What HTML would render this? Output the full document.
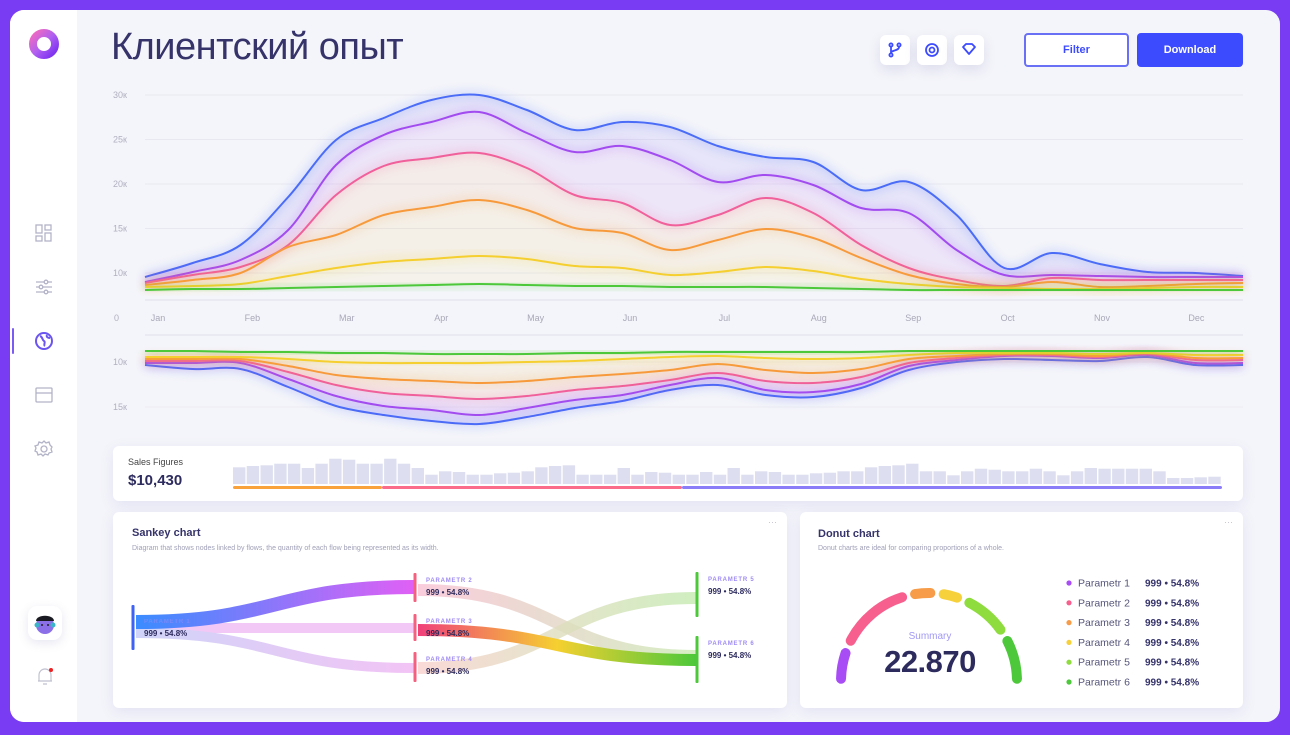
<!DOCTYPE html>
<html><head><meta charset="utf-8">
<style>
*{box-sizing:border-box;margin:0;padding:0}
body{width:1290px;height:735px;background:#7a3cf2;font-family:"Liberation Sans","Noto Sans CJK SC",sans-serif;position:relative;overflow:hidden}
#panel{position:absolute;left:10px;top:10px;width:1270px;height:712px;background:#f4f5fa;border-radius:14px;overflow:hidden}
#side{position:absolute;left:0;top:0;width:67px;height:712px;background:#fff}
.ico{position:absolute;left:24px;width:20px;height:20px}
.card{position:absolute;background:#fff;border-radius:6px;box-shadow:0 4px 14px rgba(110,100,200,.12)}
.btn-i{position:absolute;top:25px;width:30px;height:30px;background:#fff;border-radius:6px;box-shadow:0 5px 12px rgba(90,90,160,.15)}
</style></head><body>
<div id="panel">
 <div id="side">
  <svg style="position:absolute;left:18px;top:18px" width="32" height="32" viewBox="0 0 32 32">
   <defs><linearGradient id="lg" x1="0" y1="0" x2="1" y2="1"><stop offset="0" stop-color="#f06ac0"/><stop offset=".5" stop-color="#b060f0"/><stop offset="1" stop-color="#7a2ff0"/></linearGradient></defs>
   <circle cx="16" cy="16" r="11" fill="none" stroke="url(#lg)" stroke-width="8"/></svg>
  <svg class="ico" style="top:213px" viewBox="0 0 20 20" fill="none" stroke="#b3b3c8" stroke-width="1.3"><rect x="2" y="2" width="6" height="8"/><rect x="11" y="2" width="6" height="5"/><rect x="2" y="13" width="6" height="5"/><rect x="11" y="10" width="6" height="8"/></svg>
  <svg class="ico" style="top:267px" viewBox="0 0 20 20" fill="none" stroke="#b3b3c8" stroke-width="1.3"><path d="M2 5h16M2 10h16M2 15h16"/><circle cx="12" cy="5" r="1.8" fill="#fff"/><circle cx="7" cy="10" r="1.8" fill="#fff"/><circle cx="12" cy="15" r="1.8" fill="#fff"/></svg>
  <div style="position:absolute;left:2px;top:318px;width:2px;height:26px;background:#7a5cf5;border-radius:2px"></div>
  <svg class="ico" style="top:321px" viewBox="0 0 20 20"><circle cx="10" cy="10" r="8" fill="none" stroke="#6a55f0" stroke-width="2"/><path d="M6 5c3 1 2 4 4 5s-1 4 1 5M13 4c-1 2 1 3 3 3" stroke="#6a55f0" stroke-width="2" fill="none"/></svg>
  <svg class="ico" style="top:375px" viewBox="0 0 20 20" fill="none" stroke="#b3b3c8" stroke-width="1.3"><rect x="2" y="3" width="16" height="14" rx="1"/><path d="M2 8h16"/></svg>
  <svg class="ico" style="top:429px" viewBox="0 0 20 20" fill="none" stroke="#b3b3c8" stroke-width="1.3"><circle cx="10" cy="10" r="3"/><path d="M10 2l2 2 3-1 1 3 2 2-1 2 1 3-3 1-1 2-3-1-2 2-2-2-3 1-1-3-2-1 1-3-1-2 3-1 1-3 3 1z"/></svg>
  <div style="position:absolute;left:18px;top:596px;width:34px;height:34px;background:#fff;border-radius:9px;box-shadow:0 3px 10px rgba(90,90,160,.15)">
   <svg width="34" height="34" viewBox="0 0 34 34"><circle cx="17" cy="19" r="9" fill="#8a6fe8"/><circle cx="9" cy="19" r="2.5" fill="#3ab4c8"/><circle cx="25" cy="19" r="2.5" fill="#3ab4c8"/><path d="M8 15c0-7 18-7 18 0z" fill="#1a1a22"/><circle cx="14" cy="19" r="1" fill="#222"/><circle cx="20" cy="19" r="1" fill="#222"/></svg></div>
  <svg style="position:absolute;left:25px;top:656px" width="20" height="20" viewBox="0 0 20 20"><path d="M4 15V9a6 6 0 0 1 12 0v6zM3 15h14M8 18h4" fill="none" stroke="#c0c0d0" stroke-width="1.2"/><circle cx="16" cy="4" r="2" fill="#f02020"/></svg>
 </div>
 <div style="position:absolute;left:101px;top:16px;font-size:38px;color:#35336a;letter-spacing:-0.5px">Клиентский опыт</div>
 <div class="btn-i" style="left:870px"><svg width="30" height="30" viewBox="0 0 30 30" fill="none" stroke="#3d4bff" stroke-width="1.8"><circle cx="11" cy="10" r="1.6"/><circle cx="11" cy="20" r="1.6"/><circle cx="19" cy="10" r="1.6"/><path d="M11 12v6M19 12c0 4-8 3-8 6"/></svg></div>
 <div class="btn-i" style="left:907px"><svg width="30" height="30" viewBox="0 0 30 30" fill="none" stroke="#3d4bff" stroke-width="1.8"><circle cx="15" cy="15" r="6"/><circle cx="15" cy="15" r="2.5"/></svg></div>
 <div class="btn-i" style="left:944px"><svg width="30" height="30" viewBox="0 0 30 30" fill="none" stroke="#3d4bff" stroke-width="1.8" stroke-linejoin="round"><path d="M9 12l3-3h6l3 3-6 7z"/></svg></div>
 <div style="position:absolute;left:1014px;top:23px;width:105px;height:34px;border:2px solid #6a70f5;border-radius:4px;background:#fff;color:#3d4bff;font-size:11px;font-weight:bold;text-align:center;line-height:30px">Filter</div>
 <div style="position:absolute;left:1127px;top:23px;width:106px;height:34px;background:#3d4bff;border-radius:4px;color:#fff;font-size:11px;font-weight:bold;text-align:center;line-height:34px">Download</div>
</div>

<svg id="main" style="position:absolute;left:0;top:0" width="1290" height="440"></svg>

<div class="card" style="left:113px;top:446px;width:1130px;height:55px">
 <div style="position:absolute;left:15px;top:11px;font-size:9px;color:#444">Sales Figures</div>
 <div style="position:absolute;left:15px;top:26px;font-size:15px;font-weight:bold;color:#2d2b5e">$10,430</div>
 <svg id="sales" style="position:absolute;left:0;top:0" width="1130" height="55"></svg>
</div>

<div class="card" style="left:113px;top:512px;width:674px;height:196px">
 <div style="position:absolute;left:19px;top:15px;font-size:11px;font-weight:bold;color:#35336a">Sankey chart</div>
 <div style="position:absolute;left:19px;top:33px;font-size:7px;color:#a0a0b8">Diagram that shows nodes linked by flows, the quantity of each flow being represented as its width.</div>
 <div style="position:absolute;right:10px;top:5px;font-size:9px;color:#c0c0d0">···</div>
</div>
<svg id="sankey" style="position:absolute;left:0;top:0" width="790" height="720"></svg>

<div class="card" style="left:800px;top:512px;width:443px;height:196px">
 <div style="position:absolute;left:18px;top:16px;font-size:11px;font-weight:bold;color:#35336a">Donut chart</div>
 <div style="position:absolute;left:18px;top:33px;font-size:7px;color:#a0a0b8">Donut charts are ideal for comparing proportions of a whole.</div>
 <div style="position:absolute;right:10px;top:5px;font-size:9px;color:#c0c0d0">···</div>
 <div style="position:absolute;left:80px;top:119px;width:100px;text-align:center;font-size:10px;color:#a29af5">Summary</div>
 <div style="position:absolute;left:60px;top:132px;width:140px;text-align:center;font-size:31px;font-weight:bold;color:#2d2b5e;letter-spacing:-0.5px">22.870</div>
</div>
<svg id="donut" style="position:absolute;left:0;top:0" width="1290" height="735"></svg>

<script>
const NS='http://www.w3.org/2000/svg';
function mk(p,t,a){const e=document.createElementNS(NS,t);for(const k in a)e.setAttribute(k,a[k]);p.appendChild(e);return e;}

// ===== Main chart data (values in thousands) =====
const months=['Jan','Feb','Mar','Apr','May','Jun','Jul','Aug','Sep','Oct','Nov','Dec'];
const yTicksTop=[30,25,20,15,10];
const yTicksBottom=[10,15];
const seriesColors=['#4a6cf7','#a24cf0','#f0609a','#f79a3c','#f5cf2f','#4cc83a'];
const topBlue=[9.55,11.12,13.15,18.54,24.94,27.42,29.44,30.0,28.31,26.07,26.97,26.4,24.27,23.03,22.47,19.33,20.22,16.52,10.56,12.25,11.01,10.11,10.0,9.66];
const topPurple=[8.99,10.11,11.46,14.83,22.13,25.51,26.97,28.09,25.73,23.6,24.27,22.7,20.22,21.01,19.89,17.3,16.74,12.58,9.78,9.78,9.66,9.55,9.55,9.55];
const topPink=[8.88,9.78,10.67,13.15,18.76,22.02,22.92,23.48,21.8,18.76,17.87,15.39,16.52,18.43,16.74,13.15,10.56,9.21,8.54,9.44,9.21,9.21,9.21,9.21];
const topOrange=[8.65,9.21,10.0,12.92,14.27,16.52,17.42,18.2,17.08,15.06,14.49,12.58,13.71,14.94,13.93,11.69,9.78,8.76,8.43,8.99,8.43,8.54,8.76,8.88];
const topYellow=[8.43,8.54,8.76,9.66,10.56,11.24,11.57,11.91,11.57,10.79,10.56,9.78,10.11,10.67,10.22,9.33,8.76,8.43,8.31,8.2,8.2,8.31,8.43,8.43];
const topGreen=[8.09,8.2,8.2,8.31,8.43,8.54,8.65,8.76,8.65,8.54,8.54,8.43,8.43,8.43,8.31,8.2,8.09,8.09,8.09,8.09,8.09,8.09,8.09,8.09];
const botBlue=[10.33,10.78,10.78,12.78,14.89,15.89,16.56,16.89,16.11,15.11,14.33,13.11,12.56,13.67,13.89,12.89,10.89,10.0,9.67,9.78,9.89,9.44,10.33,10.33];
const botPurple=[10.11,10.11,10.11,11.89,13.78,14.89,15.33,15.89,15.11,14.22,13.67,12.56,11.78,13.11,13.33,12.44,10.44,9.78,9.33,9.33,9.56,9.22,10.11,10.11];
const botPink=[9.89,9.89,9.89,11.11,12.56,13.44,13.78,14.11,13.78,13.11,12.67,12.0,11.22,12.11,12.33,11.67,10.11,9.56,9.22,9.22,9.44,9.11,9.78,9.78];
const botOrange=[9.67,9.67,9.67,10.44,11.44,11.89,12.11,12.33,12.11,11.67,11.33,10.89,10.22,10.89,11.22,10.78,9.67,9.33,9.11,9.11,9.33,9.0,9.56,9.56];
const botYellow=[9.44,9.44,9.44,9.67,10.0,10.11,10.11,10.11,10.0,9.89,9.67,9.44,9.33,9.56,9.67,9.56,9.22,9.0,9.0,9.0,9.11,9.0,9.22,9.22];
const botGreen=[8.78,8.78,8.89,8.89,9.0,9.0,9.11,9.11,9.11,9.0,9.0,8.89,8.89,8.89,8.89,8.89,8.78,8.78,8.78,8.78,8.78,8.78,8.78,8.78];

// ===== Sales bars =====
const salesBars=[50,54,56,61,61,48,61,76,73,61,61,76,61,48,28,38,36,28,28,32,34,38,50,54,56,28,28,28,48,28,36,34,28,28,36,28,
48,28,38,36,28,28,32,34,38,38,50,54,56,61,38,38,26,38,46,43,38,38,46,38,26,38,48,46,46,46,46,38,18,18,20,22];
const salesSegments=[{c:'#f9a23c',end:149},{c:'#fb6b8a',end:449},{c:'#8b7cf8',end:989}];

// ===== Gauge =====
const gaugeLabels=['Parametr 1','Parametr 2','Parametr 3','Parametr 4','Parametr 5','Parametr 6'];
const gaugeValues=[20,48,13,12,30,28.5];
const gaugeColors=['#a84cf5','#f7608e','#f79c48','#f7d13c','#8edc3e','#4cc83a'];
const gaugeText=['999 • 54.8%','999 • 54.8%','999 • 54.8%','999 • 54.8%','999 • 54.8%','999 • 54.8%'];

// ===== Sankey =====
const sankeyNodes=[{n:'PARAMETR 1',x:133,y0:605,y1:650,c:'#3d62f5'},{n:'PARAMETR 2',x:415,y0:573,y1:602,c:'#f5607e'},{n:'PARAMETR 3',x:415,y0:614,y1:641,c:'#f5607e'},{n:'PARAMETR 4',x:415,y0:652,y1:682,c:'#f5607e'},{n:'PARAMETR 5',x:697,y0:572,y1:617,c:'#4cc83a'},{n:'PARAMETR 6',x:697,y0:636,y1:683,c:'#4cc83a'}];
const sankeyFlows=[[0,1,14],[0,2,10],[0,3,10],[1,5,12],[2,5,12],[3,4,12]];
const sankeyFlowY=[[622,587],[628,628],[633,668],[590,656],[630,660],[668,598]];

// ---------- main chart ----------
const svg=document.getElementById('main');
const X0=145,X1=1243;
const xi=i=>X0+i*(X1-X0)/(topBlue.length-1);
const yTop=v=>273-(v-10)*8.9;
const yBot=v=>362+(v-10)*9;
const xm=m=>158+m*94.4;
function smooth(pts){let d='M'+pts[0][0]+','+pts[0][1];for(let i=0;i<pts.length-1;i++){const p0=pts[i-1]||pts[i],p1=pts[i],p2=pts[i+1],p3=pts[i+2]||p2;const c1=[p1[0]+(p2[0]-p0[0])/6,p1[1]+(p2[1]-p0[1])/6],c2=[p2[0]-(p3[0]-p1[0])/6,p2[1]-(p3[1]-p1[1])/6];d+=`C${c1[0].toFixed(1)},${c1[1].toFixed(1)} ${c2[0].toFixed(1)},${c2[1].toFixed(1)} ${p2[0].toFixed(1)},${p2[1].toFixed(1)}`;}return d;}
const defs=mk(svg,'defs',{});
const f=mk(defs,'filter',{id:'glow',x:'-5%',y:'-20%',width:'110%',height:'140%'});mk(f,'feGaussianBlur',{stdDeviation:'5'});
[30,25,20,15,10].forEach(v=>{const g=mk(svg,'line',{x1:X0,x2:X1,y1:yTop(v),y2:yTop(v),stroke:'#e8e8f0','stroke-width':1});});
[300,335].forEach((y,i)=>{const g=mk(svg,'line',{x1:X0,x2:X1,y1:y,y2:y,stroke:'#e4e5ee','stroke-width':1.2});});
yTicksBottom.forEach(v=>{const g=mk(svg,'line',{x1:X0,x2:X1,y1:yBot(v),y2:yBot(v),stroke:'#ececf2','stroke-width':1});});
yTicksTop.forEach(v=>{const t=mk(svg,'text',{x:113,y:yTop(v)+3,'font-size':9,fill:'#b0b0c0'});t.textContent=v+'к';});
{const t=mk(svg,'text',{x:114,y:321,'font-size':9,fill:'#b0b0c0'});t.textContent='0';}
yTicksBottom.forEach(v=>{const t=mk(svg,'text',{x:113,y:yBot(v)+3,'font-size':9,fill:'#b0b0c0'});t.textContent=v+'к';});
months.forEach((m,i)=>{const t=mk(svg,'text',{x:xm(i),y:321,'font-size':9,fill:'#a8a8b8','text-anchor':'middle'});t.textContent=m;});
function drawSet(sets,yf,tag){
 const pts=sets.map(s=>s.map((v,i)=>[xi(i),yf(v)]));
 const fills=['#8a7cf8','#c07cf0','#f7b070','#f7c860','#f5e27a','#8ee070'];
 for(let k=0;k<pts.length-1;k++){
  const a=pts[k],b=pts[k+1].slice().reverse();
  const d=smooth(a)+'L'+smooth(b).slice(1)+'Z';
  const p=mk(svg,'path',{d:d,fill:fills[k],opacity:k<2?0.13:0.12});
  
  
 }
 for(let k=0;k<pts.length;k++){
  const g=mk(svg,'path',{d:smooth(pts[k]),fill:'none',stroke:seriesColors[k],'stroke-width':6,opacity:0.25,filter:'url(#glow)'});
  
  
  const l=mk(svg,'path',{d:smooth(pts[k]),fill:'none',stroke:seriesColors[k],'stroke-width':2});
  
  
 }
}
drawSet([topBlue,topPurple,topPink,topOrange,topYellow,topGreen],yTop,'top');
drawSet([botBlue,botPurple,botPink,botOrange,botYellow,botGreen],yBot,'bottom');

// ---------- sales bars ----------
const ss=document.getElementById('sales');
const pitch=989/salesBars.length;
salesBars.forEach((v,i)=>{const h=v/3;const r=mk(ss,'rect',{x:(120+i*pitch).toFixed(1),y:(38-h).toFixed(1),width:(pitch-1.3).toFixed(1),height:h.toFixed(1),fill:'#dddff0'});});
let sx=0;salesSegments.forEach(s=>{const r=mk(ss,'rect',{x:120+sx,y:40,width:s.end-sx,height:3,rx:1.5,fill:s.c});sx=s.end;});

// ---------- sankey ----------
const sk=document.getElementById('sankey');
const sd=mk(sk,'defs',{});
const grads=[['#3a8cff','#e060f5',1],['#f2c8f6','#f2c8f6',1],['#d0d4f8','#f2c4f5',1],['#f8bcd0','#c8e8b0',0.75],['#f0407a','#f5d030','#4cc83a'],['#f8d0cc','#c4eab0',0.8]];
grads.forEach((g,i)=>{const lg=mk(sd,'linearGradient',{id:'sg'+i,x1:0,x2:1,y1:0,y2:0});if(g.length===3&&typeof g[2]==='string'){mk(lg,'stop',{offset:0,'stop-color':g[0]});mk(lg,'stop',{offset:.5,'stop-color':g[1]});mk(lg,'stop',{offset:1,'stop-color':g[2]});}else{mk(lg,'stop',{offset:0,'stop-color':g[0],'stop-opacity':g[2]});mk(lg,'stop',{offset:1,'stop-color':g[1],'stop-opacity':g[2]});}});
const order=[1,2,3,5,4,0];
order.forEach(i=>{const fl=sankeyFlows[i];const a=sankeyNodes[fl[0]],b=sankeyNodes[fl[1]];const x1=a.x+3,x2=b.x-1,y1=sankeyFlowY[i][0],y2=sankeyFlowY[i][1],mx=(x1+x2)/2;
 const p=mk(sk,'path',{d:`M${x1},${y1}C${mx},${y1} ${mx},${y2} ${x2},${y2+0.01}`,fill:'none',stroke:`url(#sg${i})`,'stroke-width':fl[2]});
 
 });
sankeyNodes.forEach((n,i)=>{const r=mk(sk,'rect',{x:n.x-1.5,y:n.y0,width:3,height:n.y1-n.y0,rx:1,fill:n.c});
 const lx=n.x+11,ly=i===0?623:n.y0+9;
 const t=mk(sk,'text',{x:lx,y:ly,'font-size':6,'font-weight':'bold',fill:'#a08cf5','letter-spacing':'0.8',opacity:i===0?0.5:1});t.textContent=n.n;
 const v=mk(sk,'text',{x:lx,y:ly+13,'font-size':8,'font-weight':'bold',fill:'#2d2b5e'});v.textContent='999 • 54.8%';});

// ---------- gauge ----------
const dn=document.getElementById('donut');
const cx=929,cy=681,R=88;
const total=gaugeValues.reduce((a,b)=>a+b,0);const gap=(180-total)/(gaugeValues.length-1);
let ang=180;
gaugeValues.forEach((v,i)=>{const a0=(ang-1.5)*Math.PI/180,a1=(ang-v+1.5)*Math.PI/180;
 const p=mk(dn,'path',{d:`M${cx+R*Math.cos(a0)},${cy-R*Math.sin(a0)}A${R},${R} 0 0 1 ${cx+R*Math.cos(a1)},${cy-R*Math.sin(a1)}`,fill:'none',stroke:gaugeColors[i],'stroke-width':10,'stroke-linecap':'round'});
 
 
 ang-=v+gap;});
gaugeLabels.forEach((l,i)=>{const y=583+i*19.8;
 const c=mk(dn,'circle',{cx:1069,cy:y,r:2.6,fill:gaugeColors[i]});
 const t=mk(dn,'text',{x:1078,y:y+3.5,'font-size':10.5,fill:'#55557a'});t.textContent=l;
 const v=mk(dn,'text',{x:1145,y:y+3.5,'font-size':10,'font-weight':'bold',fill:'#35336a'});v.textContent=gaugeText[i];});
</script>
</body></html>
